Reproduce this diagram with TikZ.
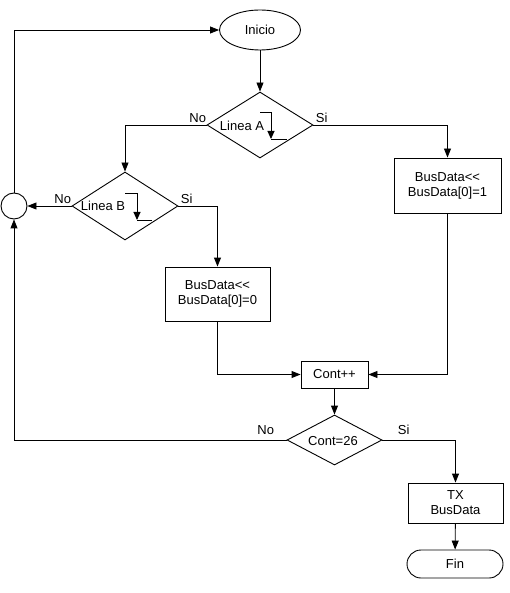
\documentclass[tikz,border=0pt]{standalone}
\usepackage{fontspec}
\setmainfont{Liberation Sans}
\usetikzlibrary{shapes.geometric,shapes.misc,arrows.meta}
\begin{document}
\begin{tikzpicture}[x=1pt,y=-1pt, font=\fontsize{13}{15}\selectfont, line width=0.9pt,
  >={Triangle[length=9pt,width=7pt]},
  proc/.style={draw, rectangle, align=center, inner sep=0pt},
  dec/.style={draw, diamond, inner sep=0pt},
  lbl/.style={inner sep=0pt},
  edgearrow/.style={-{Triangle[length=8pt,width=7pt]}}]
\useasboundingbox (0,0) rectangle (509,593);

\node[draw, ellipse, minimum width=81pt, minimum height=40pt, inner sep=0pt] (ini) at (260,30) {Inicio};
\node[dec, minimum width=106pt, minimum height=66pt] (la) at (260,125) {};
\node[lbl] (latx) at (242,126) {Linea A};
\node[dec, minimum width=106pt, minimum height=68pt] (lb) at (125,206) {};
\node[lbl] (lbtx) at (103,206) {Linea B};
\node[draw, circle, minimum size=26pt, inner sep=0pt] (c) at (14,206) {};
\node[proc, minimum width=107pt, minimum height=55pt] (b1) at (447.5,185.5) {BusData<{}<\\BusData[0]=1};
\node[proc, minimum width=105pt, minimum height=54pt] (b0) at (217.5,294) {BusData<{}<\\BusData[0]=0};
\node[proc, minimum width=67pt, minimum height=27pt] (inc) at (334.5,374.5) {Cont++};
\node[dec, minimum width=95pt, minimum height=50pt] (cmp) at (334.5,440) {};
\node[lbl] (cmptx) at (333,441) {Cont=26};
\node[proc, minimum width=95pt, minimum height=40pt] (tx) at (455.5,503) {TX\\BusData};
\node[draw, rounded rectangle, minimum width=96pt, minimum height=28pt, inner sep=0pt] (fin) at (455,564) {Fin};

% falling edge symbols
\coordinate (ea1) at (260,112); \coordinate (ea2) at (271,112);
\coordinate (ea3) at (271,139); \coordinate (ea4) at (287,139);
\draw[edgearrow] (ea1) -- (ea2) -- (ea3);
\draw (ea3) -- (ea4);
\coordinate (eb1) at (125,193); \coordinate (eb2) at (137,193);
\coordinate (eb3) at (137,220); \coordinate (eb4) at (152,220);
\draw[edgearrow] (eb1) -- (eb2) -- (eb3);
\draw (eb3) -- (eb4);

% labels
\node[lbl, anchor=south east, yshift=2pt] (noA) at (la.west) {No};
\node[lbl, anchor=south west, xshift=2pt, yshift=2pt] (siA) at (la.east) {Si};
\node[lbl, anchor=south east, yshift=2pt] (noB) at (lb.west) {No};
\node[lbl, anchor=south west, xshift=2pt, yshift=2pt] (siB) at (lb.east) {Si};
\node[lbl, anchor=south east, xshift=-12pt, yshift=5pt] (noC) at (cmp.west) {No};
\node[lbl, anchor=south west, xshift=15pt, yshift=5pt] (siC) at (cmp.east) {Si};

% connectors
\draw[->] (ini) -- (la);
\draw[->] (la.west) -| (lb.north);
\draw[->] (la.east) -| (b1.north);
\draw[->] (lb.west) -- (c.east);
\draw[->] (lb.east) -| (b0.north);
\draw[->] (b0.south) |- (inc.west);
\draw[->] (b1.south) |- (inc.east);
\draw[->] (inc) -- (cmp);
\draw[->] (cmp.west) -| (c.south);
\draw[->] (c.north) |- (ini.west);
\draw[->] (cmp.east) -| (tx.north);
\draw[->] (tx) -- (fin);
\end{tikzpicture}
\end{document}
